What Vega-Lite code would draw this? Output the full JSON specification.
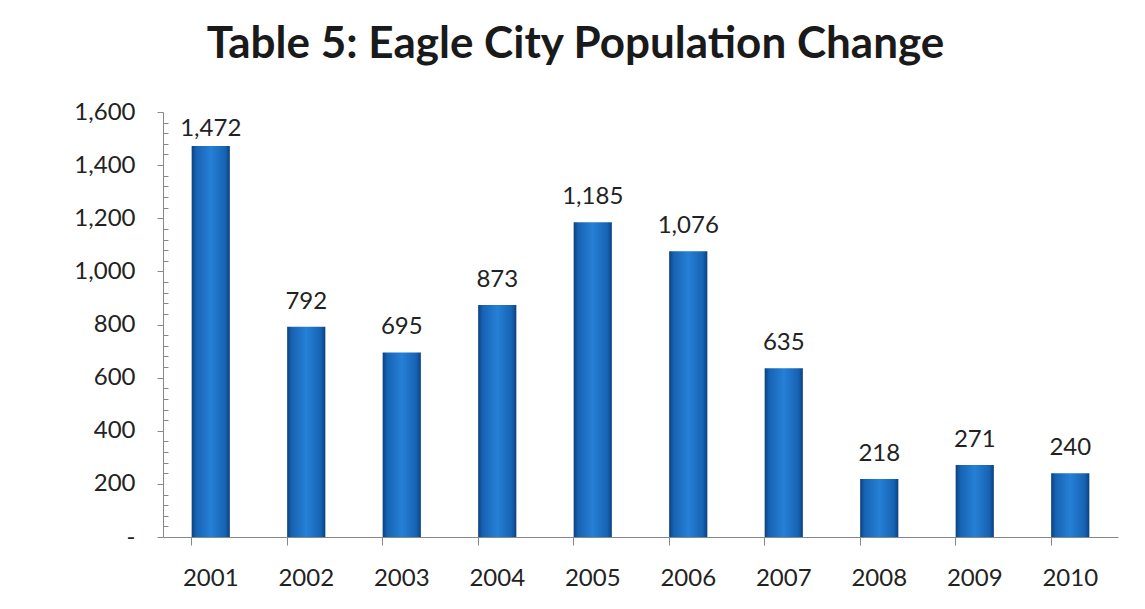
{
  "$schema": "https://vega.github.io/schema/vega-lite/v6.json",
  "autosize": "none",
  "width": 955,
  "height": 425,
  "padding": {"left": 163, "top": 112, "right": 27, "bottom": 72},
  "background": "white",
  "title": {
    "text": "Table 5: Eagle City Population Change",
    "font": "Lato",
    "fontSize": 44,
    "fontWeight": "bold",
    "color": "#1a1a1a",
    "anchor": "middle",
    "dx": -65,
    "offset": 33
  },
  "data": {
    "values": [
      {"year": "2001", "change": 1472},
      {"year": "2002", "change": 792},
      {"year": "2003", "change": 695},
      {"year": "2004", "change": 873},
      {"year": "2005", "change": 1185},
      {"year": "2006", "change": 1076},
      {"year": "2007", "change": 635},
      {"year": "2008", "change": 218},
      {"year": "2009", "change": 271},
      {"year": "2010", "change": 240}
    ]
  },
  "encoding": {
    "x": {
      "field": "year",
      "type": "ordinal",
      "scale": {"paddingInner": 0.6, "paddingOuter": 0.3},
      "axis": {
        "title": null,
        "labelAngle": 0,
        "labelFont": "Lato",
        "labelFontSize": 24,
        "labelColor": "#222",
        "labelPadding": 21,
        "tickSize": 8,
        "tickColor": "#888",
        "domainColor": "#888",
        "bandPosition": 0,
        "grid": false
      }
    },
    "y": {
      "field": "change",
      "type": "quantitative",
      "scale": {"domain": [0, 1600], "nice": false},
      "axis": {
        "title": null,
        "values": [0,40,80,120,160,200,240,280,320,360,400,440,480,520,560,600,640,680,720,760,800,840,880,920,960,1000,1040,1080,1120,1160,1200,1240,1280,1320,1360,1400,1440,1480,1520,1560,1600],
        "labelExpr": "datum.value % 200 == 0 ? (datum.value == 0 ? '-' : format(datum.value, ',')) : ''",
        "labelFont": "Lato",
        "labelFontSize": 24,
        "labelColor": "#222",
        "labelPadding": 22,
        "tickSize": {"condition": {"test": "datum.value % 200 == 0", "value": 6}, "value": -5},
        "tickColor": "#888",
        "domainColor": "#888",
        "grid": false
      }
    }
  },
  "layer": [
    {
      "mark": {
        "type": "bar",
        "color": {
          "gradient": "linear",
          "x1": 0, "x2": 1, "y1": 0, "y2": 0,
          "stops": [
            {"offset": 0, "color": "#0b4180"},
            {"offset": 0.12, "color": "#1763b3"},
            {"offset": 0.5, "color": "#2580d6"},
            {"offset": 0.88, "color": "#1763b3"},
            {"offset": 1, "color": "#0b4180"}
          ]
        }
      }
    },
    {
      "mark": {
        "type": "text",
        "baseline": "alphabetic",
        "dy": {"expr": "datum.change > 1400 ? -10 : -18"},
        "font": "Lato",
        "fontSize": 24,
        "color": "#222"
      },
      "encoding": {
        "text": {"field": "change", "type": "quantitative", "format": ","}
      }
    }
  ],
  "config": {"view": {"stroke": null}}
}
